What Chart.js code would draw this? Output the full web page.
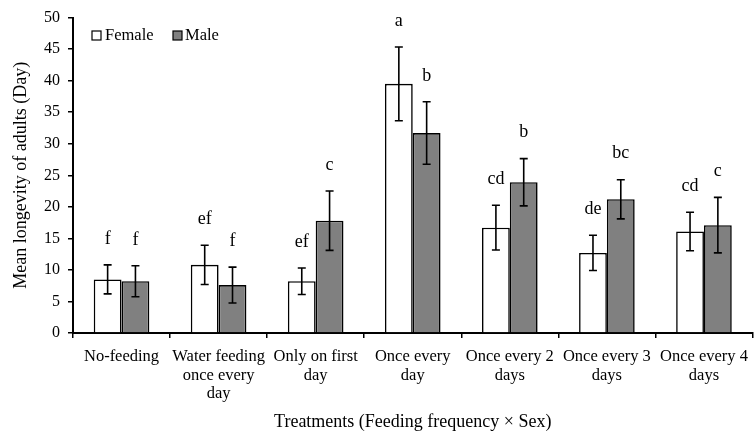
<!DOCTYPE html>
<html>
<head>
<meta charset="utf-8">
<script src="https://cdn.jsdelivr.net/npm/chart.js@4"></script>
<style>
  body { margin: 0; background: #fff; overflow: hidden; }
  canvas { display: block; }
</style>
</head>
<body>
<canvas id="myChart" width="758" height="433"></canvas>
<script>
const treatments = [
    'No-feeding',
    ['Water feeding', 'once every', 'day'],
    ['Only on first', 'day'],
    ['Once every', 'day'],
    ['Once every 2', 'days'],
    ['Once every 3', 'days'],
    ['Once every 4', 'days']
];
const femaleMean = [8.5, 10.8, 8.2, 39.5, 16.7, 12.7, 16.1];
const femaleErr = [2.3, 3.1, 2.1, 5.85, 3.55, 2.8, 3.05];
const femaleLetters = ['f', 'ef', 'ef', 'a', 'cd', 'de', 'cd'];
const maleMean = [8.2, 7.6, 17.8, 31.7, 23.9, 21.2, 17.1];
const maleErr = [2.45, 2.85, 4.7, 4.95, 3.75, 3.1, 4.4];
const maleLetters = ['f', 'f', 'c', 'b', 'b', 'bc', 'c'];

const serif = "'Liberation Serif', 'Times New Roman', serif";

// error bars, letters and the legend
const extras = {
    id: 'extras',
    afterDatasetsDraw(chart) {
        const ctx = chart.ctx;
        const y = chart.scales.y;
        const errs = [femaleErr, maleErr];
        const letters = [femaleLetters, maleLetters];
        ctx.save();
        chart.data.datasets.forEach((ds, i) => {
            chart.getDatasetMeta(i).data.forEach((bar, j) => {
                const top = y.getPixelForValue(ds.data[j] + errs[i][j]);
                const bot = y.getPixelForValue(ds.data[j] - errs[i][j]);
                ctx.strokeStyle = '#000';
                ctx.lineWidth = 1.6;
                ctx.beginPath();
                ctx.moveTo(bar.x, top);
                ctx.lineTo(bar.x, bot);
                ctx.moveTo(bar.x - 4, top);
                ctx.lineTo(bar.x + 4, top);
                ctx.moveTo(bar.x - 4, bot);
                ctx.lineTo(bar.x + 4, bot);
                ctx.stroke();
                ctx.fillStyle = '#000';
                ctx.font = '18px ' + serif;
                ctx.textAlign = 'center';
                ctx.textBaseline = 'middle';
                ctx.fillText(letters[i][j], bar.x, top - 26);
            });
        });
        // legend
        ctx.font = '16.5px ' + serif;
        ctx.textAlign = 'left';
        ctx.textBaseline = 'middle';
        ctx.lineWidth = 1.2;
        ctx.fillStyle = '#fff';
        ctx.fillRect(92, 31, 9, 9);
        ctx.strokeRect(92, 31, 9, 9);
        ctx.fillStyle = '#000';
        ctx.fillText('Female', 105, 36);
        ctx.fillStyle = '#808080';
        ctx.fillRect(173, 31, 9, 9);
        ctx.strokeRect(173, 31, 9, 9);
        ctx.fillStyle = '#000';
        ctx.fillText('Male', 185, 36);
        ctx.restore();
    }
};

const ctx = document.getElementById('myChart').getContext('2d');
const chart = new Chart(ctx, {
    type: 'bar',
    data: {
        labels: treatments,
        datasets: [{
            label: 'Female',
            data: femaleMean,
            backgroundColor: '#ffffff',
            borderColor: '#000',
            borderWidth: 1.6,
            borderSkipped: 'bottom'
        }, {
            label: 'Male',
            data: maleMean,
            backgroundColor: '#808080',
            borderColor: '#000',
            borderWidth: 1.6,
            borderSkipped: 'bottom'
        }]
    },
    options: {
        responsive: false,
        animation: false,
        layout: { padding: { top: 8, right: 1, left: 0, bottom: 0 } },
        plugins: {
            legend: { display: false },
            tooltip: { enabled: false }
        },
        datasets: {
            bar: { categoryPercentage: 0.573, barPercentage: 1.0 }
        },
        scales: {
            x: {
                offset: true,
                grid: {
                    display: true,
                    drawOnChartArea: false,
                    drawTicks: true,
                    tickLength: 5,
                    color: '#000',
                    lineWidth: 1.5
                },
                border: { color: '#000', width: 2 },
                ticks: {
                    color: '#000',
                    font: { family: serif, size: 16.5, lineHeight: 1.1 },
                    padding: 10,
                    maxRotation: 0,
                    autoSkip: false
                },
                title: {
                    display: true,
                    text: 'Treatments (Feeding frequency × Sex)',
                    color: '#000',
                    font: { family: serif, size: 18 },
                    padding: { top: 0, bottom: 0 }
                },
                afterFit(scale) { scale.height = 100; }
            },
            y: {
                min: 0,
                max: 50,
                grid: {
                    display: true,
                    drawOnChartArea: false,
                    drawTicks: true,
                    tickLength: 5,
                    color: '#000',
                    lineWidth: 1.5
                },
                border: { color: '#000', width: 2 },
                ticks: {
                    stepSize: 5,
                    color: '#000',
                    font: { family: serif, size: 16 },
                    padding: 8
                },
                title: {
                    display: true,
                    text: 'Mean longevity of adults (Day)',
                    color: '#000',
                    font: { family: serif, size: 18 },
                    padding: { top: 10, bottom: 0 }
                },
                afterFit(scale) { scale.width = 73; }
            }
        }
    },
    plugins: [extras]
});
</script>
</body>
</html>
